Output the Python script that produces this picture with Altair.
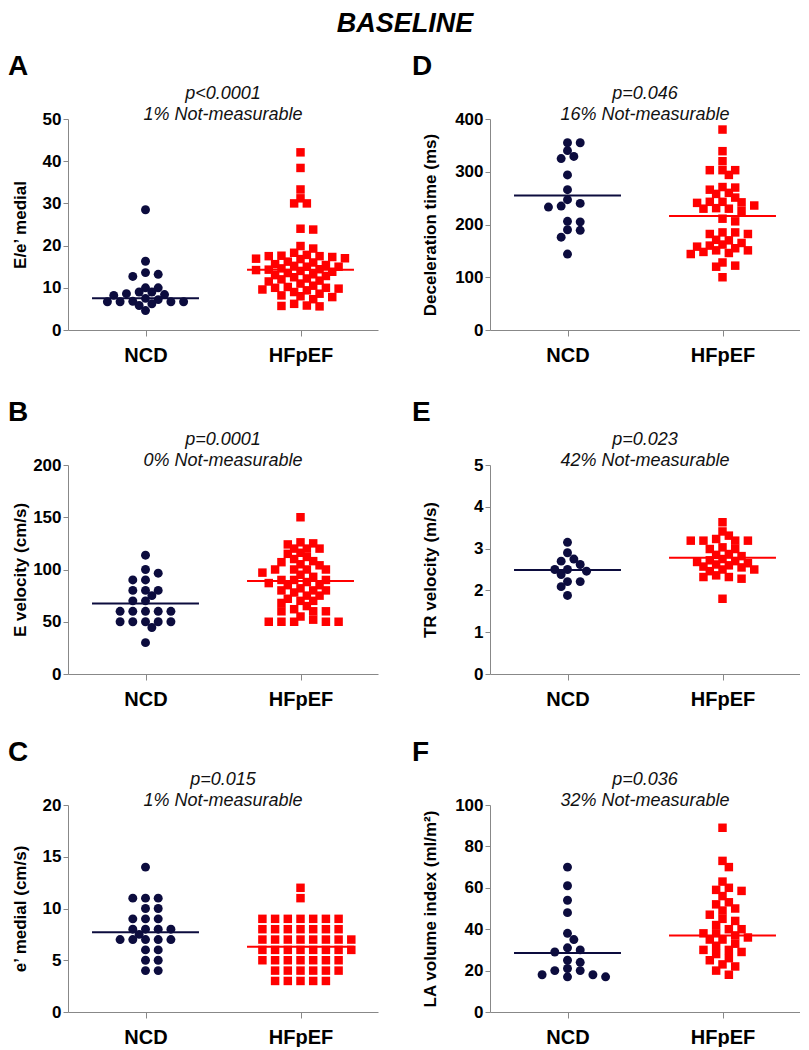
import altair as alt
import pandas as pd

groups = ["NCD", "HFpEF"]
group_colors = ["#0c0c3e", "#ff0000"]
group_shapes = ["circle", "square"]
group_sizes = [80, 72]
header = "BASELINE"

# ---- Panel A : E/e' medial ----
A_ncd = [28.5, 16.3, 13.6, 12.7, 13.2, 10.0, 10.0, 9.0, 9.0, 8.6, 8.4, 8.2,
         7.5, 7.2, 6.8, 6.7, 6.7, 6.7, 6.7, 6.2, 5.8, 4.6]
A_hf = [42.1, 38.4, 33.3, 31.2, 30.0, 30.0, 24.0, 23.8, 19.9, 19.3,
        18.3, 17.8, 17.6, 17.5, 17.5, 17.3, 17.0, 16.9, 16.8,
        16.2, 16.0, 15.6, 15.4, 15.2, 15.0, 15.0,
        14.6, 14.4, 14.3, 14.2, 14.0, 13.8, 13.5, 13.2, 13.0,
        12.8, 12.5, 12.2, 12.0, 11.7, 11.5, 11.0,
        10.5, 10.2, 10.0, 10.0, 9.8, 9.6, 9.4, 9.0,
        8.6, 8.2, 8.0, 7.8, 7.3, 6.2, 5.8, 5.6, 5.7]
A_line = [7.5, 14.3]

# ---- Panel B : E velocity ----
B_ncd = [113.7, 100, 96.5, 90, 90, 80, 80, 80, 75, 70, 70, 60, 60, 60, 60, 60,
         50, 50, 50, 50, 50, 44.5, 30]
B_hf = [150, 126, 125, 124, 120, 120, 120, 116, 115, 112, 110, 108, 107, 105, 104,
        100, 100, 100, 100, 97, 95, 93, 90, 90, 90, 88, 87, 85, 85, 82,
        80, 80, 80, 78, 75, 75, 72, 70, 70, 68, 65, 62, 60, 60, 60, 55, 52,
        50, 50, 50, 50, 50]
B_line = [67.5, 89.0]

# ---- Panel C : e' medial ----
C_ncd = [14, 11, 11, 11, 10, 10, 9, 9, 9, 8, 8, 8, 8, 7.5, 7, 7, 7, 7, 7,
         6, 6, 5, 5, 4, 4]
C_hf = [12, 11, 9, 9, 9, 9, 9, 9, 9, 8, 8, 8, 8, 8, 8, 8,
        7, 7, 7, 7, 7, 7, 7, 7, 6, 6, 6, 6, 6, 6, 6, 6,
        5, 5, 5, 5, 5, 5, 5, 4, 4, 4, 4, 4, 4, 3, 3, 3, 3, 3]
C_line = [7.7, 6.3]

# ---- Panel D : Deceleration time ----
D_ncd = [355, 355, 340, 325, 329, 294, 266, 247, 235, 233, 240, 205, 206,
         189, 190, 176, 144]
D_hf = [380, 339, 320, 303, 303, 303, 294, 271, 270, 266, 260, 258, 251,
        243, 242, 243, 241, 230, 236, 230, 231, 226, 211, 206,
        185, 182, 182, 185, 171, 170, 165, 162, 155, 160, 158,
        151, 148, 144, 146, 151, 122, 128, 120, 100]
D_line = [255, 216]

# ---- Panel E : TR velocity ----
E_ncd = [3.15, 2.75, 2.70, 2.90, 2.62, 2.50, 2.46, 2.50, 2.38, 2.21, 2.21, 2.09, 1.88]
E_hf = [3.63, 3.41, 3.31, 3.19, 3.19, 3.23, 3.19, 3.19, 2.99, 2.99, 3.03,
        2.87, 2.75, 2.85, 2.82, 2.70, 2.65, 2.62, 2.60, 2.68, 2.72,
        2.57, 2.55, 2.50, 2.36, 2.32, 2.28, 2.32, 2.46, 2.50, 1.80]
E_line = [2.49, 2.78]

# ---- Panel F : LA volume index ----
F_ncd = [70, 61, 54, 48, 38, 35, 31, 30, 29, 25, 24, 21, 20, 20, 18, 18, 17, 17]
F_hf = [89, 73, 70, 63, 60, 58.5, 59, 56, 53, 52, 50, 49, 47, 45, 44, 42, 40, 40,
        38, 38, 37, 36, 35, 35, 33, 32, 30, 30, 29, 28, 26, 25, 23, 22, 20, 18]
F_line = [28.5, 37.0]

FONT = "Liberation Sans"
W = 310
X_MAX = 4.0
CENTERS = [1.0, 3.0]
STEP_PX = 12.7   # horizontal spacing between neighbouring symbols
COLL_PX = 7.6    # minimum centre distance between symbols (slight overlap allowed)
LINE_HALF = 0.69
H1, H2, H3 = 211, 209, 207


def swarm_offsets(values, ymax, height):
    """Greedy scatter-dot layout on a half-step grid around the group centre."""
    ppu = height / ymax
    xu = W / X_MAX
    order = sorted(range(len(values)), key=lambda i: -values[i])
    placed = []
    offs = [0.0] * len(values)
    for i in order:
        yp = values[i] * ppu
        near = [p for p in placed if abs(p[1] - yp) < COLL_PX]
        bias = sum(p[0] for p in near)
        k = 0
        chosen = None
        while chosen is None:
            if k == 0:
                cands = [0.0]
            else:
                d = k * STEP_PX / 2
                cands = [-d, d] if bias > 0 else [d, -d]
            for c in cands:
                if all((c - px) ** 2 + (yp - py) ** 2 >= COLL_PX ** 2 for px, py in near):
                    chosen = c
                    break
            k += 1
        placed.append((chosen, yp))
        offs[i] = chosen / xu
    return offs


label_expr = " : ".join(
    [f"datum.value == {c} ? '{g}'" for c, g in zip(CENTERS[:-1], groups[:-1])] + [f"'{groups[-1]}'"]
)

no_view = alt.ViewBackground(stroke="transparent", strokeWidth=0)


def panel(letter, ncd, hf, line_vals, ymax, ystep, ytitle, ptxt, nmtxt, height, title_x, letter_x, top_text=None):
    rows = []
    for gi, vals in enumerate([ncd, hf]):
        offs = swarm_offsets(vals, ymax, height)
        for v, o in zip(vals, offs):
            rows.append({"grp": groups[gi], "value": v, "xpos": CENTERS[gi] + o})
    df = pd.DataFrame(rows)
    ldf = pd.DataFrame({
        "grp": groups,
        "value": line_vals,
        "x1": [c - LINE_HALF for c in CENTERS],
        "x2": [c + LINE_HALF for c in CENTERS],
    })
    xscale = alt.Scale(domain=[0, X_MAX], nice=False, zero=False)
    yscale = alt.Scale(domain=[0, ymax], nice=False, zero=True)
    color = alt.Color("grp:N", scale=alt.Scale(domain=groups, range=group_colors), legend=None)
    xaxis = alt.Axis(values=CENTERS, labelExpr=label_expr, title=None, grid=False,
                     labelFontSize=20, labelFontWeight="bold", labelPadding=9,
                     tickSize=6, labelFlush=False)
    yaxis = alt.Axis(values=[round(v * ystep, 6) for v in range(0, int(round(ymax / ystep)) + 1)],
                     title=ytitle, grid=False, labelFontSize=17, labelFontWeight="bold",
                     tickSize=5, labelPadding=2, titleFontSize=17, titleFontWeight="bold",
                     titleX=title_x, titleY=height / 2, titleBaseline="middle", titleAngle=-90)
    pts = alt.Chart(df).mark_point(filled=True, opacity=1).encode(
        x=alt.X("xpos:Q", scale=xscale, axis=xaxis),
        y=alt.Y("value:Q", scale=yscale, axis=yaxis),
        color=color,
        shape=alt.Shape("grp:N", scale=alt.Scale(domain=groups, range=group_shapes), legend=None),
        size=alt.Size("grp:N", scale=alt.Scale(domain=groups, range=group_sizes), legend=None),
    )
    rule = alt.Chart(ldf).mark_rule(strokeWidth=2).encode(
        x=alt.X("x1:Q", scale=xscale),
        x2="x2:Q",
        y=alt.Y("value:Q", scale=yscale),
        color=color,
    )
    let = alt.Chart(pd.DataFrame({"t": [letter]})).mark_text(
        fontSize=28, fontWeight="bold", align="left", baseline="middle", color="black", font=FONT
    ).encode(text="t:N", x=alt.value(letter_x), y=alt.value(-52))
    p1 = alt.Chart(pd.DataFrame({"t": [ptxt]})).mark_text(
        fontSize=18, fontStyle="italic", align="center", baseline="middle", color="#111111", font=FONT
    ).encode(text="t:N", x=alt.value(W / 2), y=alt.value(-25))
    p2 = alt.Chart(pd.DataFrame({"t": [nmtxt]})).mark_text(
        fontSize=18, fontStyle="italic", align="center", baseline="middle", color="#111111", font=FONT
    ).encode(text="t:N", x=alt.value(W / 2), y=alt.value(-4))
    layers = [pts, rule, let, p1, p2]
    if top_text is not None:
        layers.append(
            alt.Chart(pd.DataFrame({"t": [top_text]})).mark_text(
                fontSize=27, fontWeight="bold", fontStyle="italic", align="center",
                baseline="middle", color="black", font=FONT
            ).encode(text="t:N", x=alt.value(337), y=alt.value(-95))
        )
    return alt.layer(*layers).properties(width=W, height=height, view=no_view)


pA = panel("A", A_ncd, A_hf, A_line, 50, 10, "E/e’ medial", "p<0.0001", "1% Not-measurable", H1, -48, -60, header)
pD = panel("D", D_ncd, D_hf, D_line, 400, 100, "Deceleration time (ms)", "p=0.046", "16% Not-measurable", H1, -60, -78)
pB = panel("B", B_ncd, B_hf, B_line, 200, 50, "E velocity (cm/s)", "p=0.0001", "0% Not-measurable", H2, -48, -60)
pE = panel("E", E_ncd, E_hf, E_line, 5, 1, "TR velocity (m/s)", "p=0.023", "42% Not-measurable", H2, -60, -78)
pC = panel("C", C_ncd, C_hf, C_line, 20, 5, "e’ medial (cm/s)", "p=0.015", "1% Not-measurable", H3, -48, -60)
pF = panel("F", F_ncd, F_hf, F_line, 100, 20, "LA volume index (ml/m²)", "p=0.036", "32% Not-measurable", H3, -60, -78)

HSP = 112
# with flush bounds the nested rows report no height, so the row height is part of the gap
chart = alt.vconcat(
    alt.hconcat(pA, pD, spacing=HSP, bounds="flush"),
    alt.vconcat(
        alt.hconcat(pB, pE, spacing=HSP, bounds="flush"),
        alt.hconcat(pC, pF, spacing=HSP, bounds="flush"),
        spacing=H2 + 131, bounds="flush",
    ),
    spacing=H1 + 135, bounds="flush",
).properties(
    padding={"top": 2, "left": 0, "right": 0, "bottom": 0},
).configure_view(stroke="transparent", strokeWidth=0).configure_axis(
    domainColor="black", domainWidth=2, tickColor="black", tickWidth=2,
    labelColor="black", titleColor="black", labelFont=FONT, titleFont=FONT,
).configure(font=FONT)

chart.save("out.html", embed_options={"renderer": "svg", "actions": False})
